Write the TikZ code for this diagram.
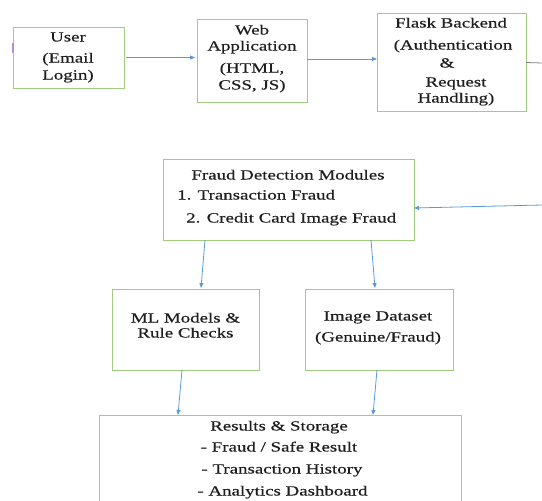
\documentclass[tikz,border=0pt]{standalone}
\usepackage{fontspec}
\setmainfont{Liberation Serif}[FakeStretch=1.35,FakeBold=0.4]
\usetikzlibrary{arrows.meta,calc}
\definecolor{boxgreen}{RGB}{160,205,125}
\definecolor{flowblue}{RGB}{91,155,213}
\definecolor{linegray}{RGB}{130,130,130}
\definecolor{markviolet}{RGB}{180,140,220}
\definecolor{ink}{RGB}{30,30,30}
\begin{document}
\begin{tikzpicture}[x=1pt,y=-1pt,
  box/.style={draw=boxgreen,line width=1pt,inner sep=0pt,outer sep=0pt},
  txt/.style={anchor=base,inner sep=0pt,text=ink,font=\fontsize{14}{17}\selectfont},
  txtl/.style={txt,anchor=base west},
  flow/.style={draw=flowblue,line width=0.8pt,-{Triangle[length=5pt,width=4pt]}}]
\useasboundingbox (0,0) rectangle (542,501);
\clip (0,0) rectangle (542,501);

% boxes
\node[box,minimum width=111pt,minimum height=61pt] (user) at (68.5,57.5) {};
\node[box,minimum width=110pt,minimum height=83pt] (web) at (252,60.5) {};
\node[box,minimum width=149pt,minimum height=98pt] (flask) at (451.5,62) {};
\node[box,minimum width=251pt,minimum height=81pt] (fraud) at (288.5,199.5) {};
\node[box,minimum width=147pt,minimum height=81pt] (ml) at (185.5,329.5) {};
\node[box,minimum width=148pt,minimum height=81pt] (img) at (379,329.5) {};
\node[box,minimum width=362pt,minimum height=100pt] (res) at (280,465) {};

% texts
\node[txt] (user-a) at (68,41.5) {User};
\node[txt] (user-b) at (68,62.5) {(Email};
\node[txt] (user-c) at (68,79.5) {Login)};

\node[txt] (web-a) at (252,34.5) {Web};
\node[txt] (web-b) at (252,50.5) {Application};
\node[txt] (web-c) at (252,72.5) {(HTML,};
\node[txt] (web-d) at (252,89.5) {CSS, JS)};

\node[txt] (flask-a) at (451,27.5) {Flask Backend};
\node[txt] (flask-b) at (453,49.5) {(Authentication};
\node[txt] (flask-c) at (447,67.5) {\&};
\node[txt] (flask-d) at (456,86.5) {Request};
\node[txt] (flask-e) at (456,102.5) {Handling)};

\node[txt] (fraud-a) at (288,179.5) {Fraud Detection Modules};
\node[txtl] (fraud-b) at (177,199.5) {1. Transaction Fraud};
\node[txtl] (fraud-c) at (186,222.5) {2. Credit Card Image Fraud};

\node[txt] (ml-a) at (185.5,322.5) {ML Models \&};
\node[txt] (ml-b) at (185.5,337.5) {Rule Checks};

\node[txt] (img-a) at (378,320.5) {Image Dataset};
\node[txt] (img-b) at (378,341.5) {(Genuine/Fraud)};

\node[txt] (res-a) at (279,430.5) {Results \& Storage};
\node[txt] (res-b) at (279,451.5) {- Fraud / Safe Result};
\node[txt] (res-c) at (282,473.5) {- Transaction History};
\node[txt] (res-d) at (282.5,495.5) {- Analytics Dashboard};

% loose ends at the right edge
\coordinate (flask-out) at (542,63);
\coordinate (fraud-in) at (542,205);

% connectors
\draw[flow,shorten <=2pt,shorten >=2pt] (user.east) -- (user.east -| web.west);
\draw[flow] ($(web.east)+(0,-1.5)$) -- ($(web.east -| flask.west)+(0,-1.5)$);
\draw[draw=linegray,line width=0.8pt] ($(flask.east)+(0,0.5)$) -- (flask-out);
\draw[flow] (fraud-in) -- ($(fraud.east)+(0,8.5)$);
\draw[flow] ($(fraud.south west)+(42,0)$) -- ($(ml.north west)+(89,-1)$);
\draw[flow] ($(fraud.south west)+(208,0)$) -- ($(img.north west)+(70,-1)$);
\draw[flow] ($(ml.south west)+(70,0)$) -- ($(res.north west)+(79,0)$);
\draw[flow] ($(img.south west)+(72,0)$) -- ($(res.north west)+(274,0)$);

% small mark on the left edge of the user box
\draw[markviolet,line width=1.4pt] ($(user.north west)+(0,16)$) -- ($(user.north west)+(0,26)$);
\end{tikzpicture}
\end{document}
